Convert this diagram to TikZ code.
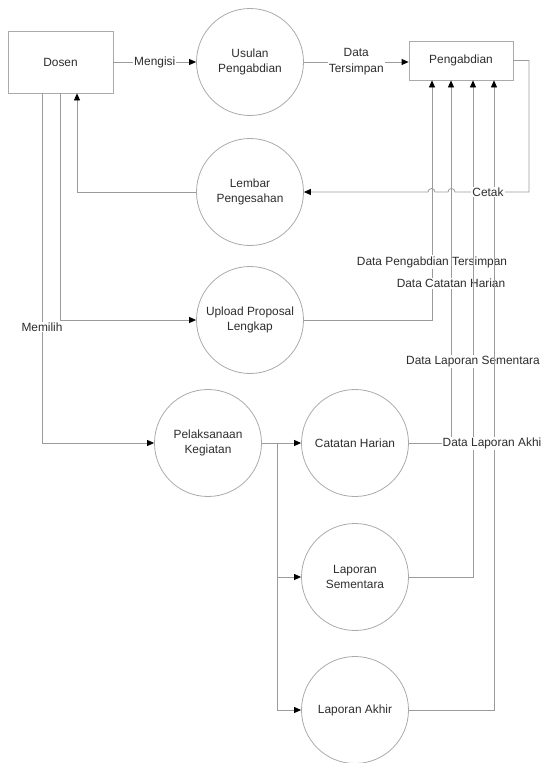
\documentclass[tikz,border=0pt]{standalone}
\usepackage{fontspec}
\setmainfont{Liberation Sans}
\usetikzlibrary{arrows.meta}
\definecolor{linegray}{RGB}{155,155,155}
\definecolor{shapegray}{RGB}{170,170,170}
\definecolor{txt}{RGB}{45,45,45}
\begin{document}
\begin{tikzpicture}[x=1pt,y=-1pt,
  every node/.style={text=txt,font=\fontsize{11.9}{15}\selectfont},
  entity/.style={draw=shapegray,line width=0.8pt,rectangle,fill=white},
  proc/.style={draw=shapegray,line width=0.8pt,circle,minimum size=107pt,inner sep=0pt,align=center},
  flow/.style={draw=linegray,line width=0.8pt},
  arr/.style={flow,-{Triangle[length=7pt,width=6pt,color=black]}},
  lbl/.style={fill=white,inner sep=1pt,align=center,font=\fontsize{11.9}{16}\selectfont}]
\useasboundingbox (0,0) rectangle (542,763);

% external entities
\node[entity,minimum width=105pt,minimum height=62pt] (dosen) at (60.5,62) {Dosen};
\node[entity,minimum width=104pt,minimum height=39pt] (pengabdian) at (461,60.5) {Pengabdian};

% processes
\node[proc] (usulan) at (250,62) {Usulan\\Pengabdian};
\node[proc] (lembar) at (250,192) {Lembar\\Pengesahan};
\node[proc] (upload) at (250,320) {Upload Proposal\\Lengkap};
\node[proc] (pelaksanaan) at (208,443) {Pelaksanaan\\Kegiatan};
\node[proc] (catatan) at (355,443) {Catatan Harian};
\node[proc] (sementara) at (355,577) {Laporan\\Sementara};
\node[proc] (akhir) at (355,710) {Laporan Akhir};

% Dosen and its flows
\draw[arr] (dosen.east) -- node[lbl] {Mengisi} (usulan.west);
\draw[arr] (dosen.south) |- (upload.west);
\draw[arr] ([xshift=-18.5pt]dosen.south) |- node[lbl,pos=0.334] {Memilih} (pelaksanaan.west);
\draw[arr] (lembar.west) -| ([xshift=16.5pt]dosen.south);

% proposal submission into the data store
\draw[arr] (usulan.east) -- node[lbl] {Data\\Tersimpan} (usulan.east -| pengabdian.west);

% execution branches
\coordinate (split) at (277,443);
\draw[arr] (pelaksanaan.east) -- (catatan.west);
\draw[arr] (split) |- (sementara.west);
\draw[arr] (split) |- (akhir.west);

% data returned to the store
\draw[arr] (upload.east) -| node[lbl,pos=0.621] {Data Pengabdian Tersimpan} ([xshift=-29pt]pengabdian.south);
\draw[arr] (catatan.east) -| node[lbl,pos=0.72] {Data Catatan Harian} ([xshift=-10pt]pengabdian.south);
\draw[arr] (sementara.east) -| node[lbl,pos=0.717] {Data Laporan Sementara} ([xshift=12pt]pengabdian.south);
\draw[arr] (akhir.east) -| node[lbl,pos=0.712,xshift=-2pt] {Data Laporan Akhi} ([xshift=33pt]pengabdian.south);

% printing the approval sheet, hopping over the return lines
\coordinate (cetakcorner) at (529,192);
\draw[arr] (pengabdian.east) -| (cetakcorner) -- (455,192)
  arc[start angle=0,end angle=-180,radius=3.5] -- (435,192)
  arc[start angle=0,end angle=-180,radius=3.5] -- (lembar.east);
\node[lbl] (cetak) at (488,192) {Cetak};
\end{tikzpicture}
\end{document}
